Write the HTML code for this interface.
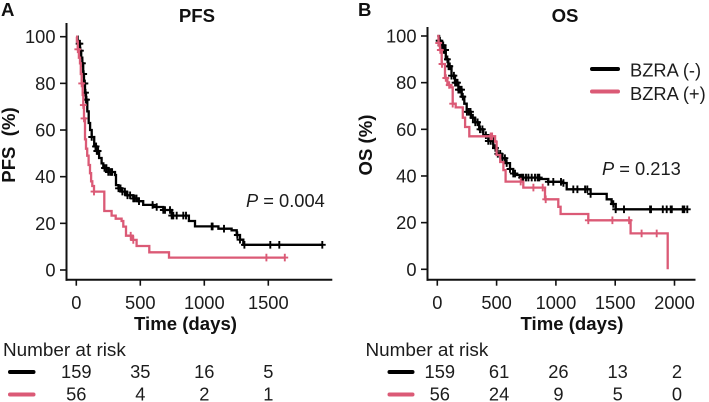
<!DOCTYPE html>
<html lang="en">
<head>
<meta charset="utf-8">
<title>Kaplan-Meier PFS and OS by BZRA</title>
<style>
html,body{margin:0;padding:0;background:#fff;}
svg{display:block;}
text{font-family:"Liberation Sans",sans-serif;font-size:18.3px;fill:#1c1c1c;}
.b{font-weight:bold;fill:#111;font-size:18.6px;}
.r{font-size:18.9px;}
</style>
</head>
<body>
<svg id="figure" width="709" height="402" viewBox="0 0 709 402" xmlns="http://www.w3.org/2000/svg">
  <text class="b" x="1" y="16">A</text>
  <text class="b" x="358" y="16">B</text>
  <text class="b" x="197" y="22" text-anchor="middle">PFS</text>
  <text class="b" x="565" y="22" text-anchor="middle">OS</text>
  <text class="b" transform="translate(15,145) rotate(-90)" text-anchor="middle" xml:space="preserve">PFS  (%)</text>
  <text class="b" transform="translate(372,145) rotate(-90)" text-anchor="middle">OS (%)</text>
  <text class="b" x="185.5" y="330" text-anchor="middle">Time (days)</text>
  <text class="b" x="572" y="330" text-anchor="middle">Time (days)</text>
  <text x="246" y="207"><tspan font-style="italic">P</tspan> = 0.004</text>
  <text x="602" y="175"><tspan font-style="italic">P</tspan> = 0.213</text>
  <line x1="592" x2="618" y1="69" y2="69" stroke="#000" stroke-width="4" stroke-linecap="round"/>
  <line x1="592" x2="618" y1="91.5" y2="91.5" stroke="#db5a76" stroke-width="4" stroke-linecap="round"/>
  <text x="630" y="76.5">BZRA (-)</text>
  <text x="630" y="100">BZRA (+)</text>
  <text class="r" x="3" y="356">Number at risk</text>
  <text class="r" x="365.5" y="356">Number at risk</text>
  <line x1="10" x2="33.5" y1="372" y2="372" stroke="#000" stroke-width="4" stroke-linecap="round"/>
  <line x1="10" x2="33.5" y1="394.5" y2="394.5" stroke="#db5a76" stroke-width="4" stroke-linecap="round"/>
  <line x1="389.5" x2="412.5" y1="372" y2="372" stroke="#000" stroke-width="4" stroke-linecap="round"/>
  <line x1="389.5" x2="412.5" y1="394.5" y2="394.5" stroke="#db5a76" stroke-width="4" stroke-linecap="round"/>
</svg>
<script>
const yTickValues = [0, 20, 40, 60, 80, 100];
const pfsXTicks = [0, 500, 1000, 1500];
const osXTicks = [0, 500, 1000, 1500, 2000];

const pfsNegTime = [0, 10, 20, 29, 38, 47, 54, 60, 68, 76, 86, 97, 108, 120, 140, 159, 178, 198, 211, 250, 302, 310, 330, 354, 394, 445, 485, 523, 601, 680, 745, 880, 927, 1110, 1213, 1253, 1279, 1305];
const pfsNegSurv = [100, 98, 97, 94, 91, 88.6, 84, 80, 76, 73, 68, 63, 60, 57, 53, 51, 48, 45.7, 43.7, 42, 40.7, 36.4, 35, 33.6, 32, 30.7, 29.5, 27.9, 27, 25.7, 23.3, 21, 18.7, 17.7, 17, 15, 13, 10.8];
const pfsNegCensor = [22, 28, 32, 48, 58, 62, 67, 72, 76, 80, 120, 150, 155, 160, 165, 170, 220, 235, 250, 265, 275, 280, 330, 345, 360, 380, 400, 420, 445, 455, 470, 490, 596, 628, 680, 693, 732, 745, 758, 784, 836, 857, 1058, 1065, 1154, 1258, 1279, 1313, 1516, 1586, 1922];
const pfsNegEnd = 1922;

const pfsPosTime = [0, 5, 12, 20, 29, 35, 42, 50, 55, 60, 68, 76, 85, 96, 107, 116, 125, 138, 219, 276, 308, 354, 367, 388, 437, 471, 570, 724];
const pfsPosSurv = [100, 98, 94.6, 91, 88.6, 84, 80, 75, 70.7, 65, 56, 52, 49, 45, 41.5, 38, 36, 33.6, 25.3, 23.3, 22, 21, 18.6, 14.7, 12.9, 10.3, 7.6, 5.3];
const pfsPosCensor = [12, 42, 55, 60, 138, 425, 445, 1485, 1629];
const pfsPosEnd = 1629;

const osNegTime = [0, 15, 30, 51, 72, 93, 120, 149, 178, 206, 228, 248, 283, 318, 353, 388, 430, 472, 505, 543, 575, 613, 640, 669, 697, 866, 935, 1049, 1091, 1293, 1428, 1470, 1504];
const osNegSurv = [100, 98, 96, 94, 90, 87, 83, 80, 77, 74, 71, 67.5, 65, 63, 60, 57.5, 55, 52, 49.5, 47.6, 45.5, 43, 41, 40.4, 39.3, 38.7, 37.5, 37, 34.3, 32.3, 30, 28, 25.7];
const osNegCensor = [15, 22, 30, 38, 42, 46, 50, 55, 62, 70, 85, 95, 105, 120, 140, 150, 160, 170, 178, 185, 195, 205, 215, 250, 265, 280, 300, 320, 340, 360, 380, 410, 430, 450, 470, 490, 510, 530, 550, 570, 585, 613, 641, 655, 711, 725, 748, 768, 796, 824, 846, 860, 936, 978, 1043, 1063, 1147, 1181, 1246, 1265, 1293, 1484, 1504, 1574, 1794, 1802, 1901, 1934, 1968, 1977, 2069, 2083, 2108];
const osNegEnd = 2108;

const osPosTime = [0, 10, 23, 37, 65, 85, 107, 130, 155, 215, 234, 270, 487, 500, 530, 557, 576, 725, 908, 1020, 1040, 1273, 1630, 1943];
const osPosSurv = [100, 97, 94, 88, 82, 79, 78, 71, 69.4, 65, 61, 57, 54.7, 49, 46, 42.5, 37.6, 35, 30, 26.8, 23.7, 21, 15.4, 0];
const osPosCensor = [12, 25, 40, 72, 100, 130, 450, 462, 703, 810, 889, 914, 1273, 1476, 1617, 1723, 1850];
const osPosEnd = 1943;

const pfsRiskNeg = ["159", "35", "16", "5"];
const pfsRiskPos = ["56", "4", "2", "1"];
const osRiskNeg = ["159", "61", "26", "13", "2"];
const osRiskPos = ["56", "24", "9", "5", "0"];

const NS = 'http://www.w3.org/2000/svg';
const svg = document.getElementById('figure');
const BLACK = '#000';
const PINK = '#db5a76';

const xPfs = t => 76.3 + t * 0.128;
const yPfs = s => 270 - s * 2.333;
const xOs = t => 437.3 + t * 0.1186;
const yOs = s => 269.3 - s * 2.333;

function make(tag, attrs, parent) {
  const el = document.createElementNS(NS, tag);
  for (const k in attrs) el.setAttribute(k, attrs[k]);
  (parent || svg).appendChild(el);
  return el;
}

function survAt(times, survs, t) {
  let s = survs[0];
  for (let i = 0; i < times.length && i < survs.length; i++) {
    if (times[i] <= t) s = survs[i];
  }
  return s;
}

function drawAxes(prefix, axisX, axisTop, axisY, axisRight, xf, yf, xTicks) {
  const yAxis = make('line', {x1: axisX, x2: axisX, y1: axisTop, y2: axisY + 1, stroke: '#111', 'stroke-width': 2});
  
  
  const xAxis = make('line', {x1: axisX - 1, x2: axisRight, y1: axisY, y2: axisY, stroke: '#111', 'stroke-width': 2});
  
  
  yTickValues.forEach(v => {
    const y = yf(v);
    const tick = make('line', {x1: axisX - 6.5, x2: axisX, y1: y, y2: y, stroke: '#111', 'stroke-width': 1.6});
    
    
    const label = make('text', {x: axisX - 11, y: y + 6.5, 'text-anchor': 'end'});
    label.textContent = v;
    
    
  });
  xTicks.forEach(v => {
    const x = xf(v);
    const tick = make('line', {x1: x, x2: x, y1: axisY, y2: axisY + 6, stroke: '#111', 'stroke-width': 1.6});
    
    
    const label = make('text', {x: x, y: 309, 'text-anchor': 'middle'});
    label.textContent = v;
    
    
  });
}

function drawCurve(name, times, survs, censor, end, xf, yf, color) {
  let d = 'M' + xf(times[0]).toFixed(1) + ' ' + yf(survs[0]).toFixed(1);
  for (let i = 1; i < times.length; i++) {
    d += 'H' + xf(times[i]).toFixed(1) + 'V' + yf(survs[i]).toFixed(1);
  }
  d += 'H' + xf(end).toFixed(1);
  const path = make('path', {d: d, fill: 'none', stroke: color, 'stroke-width': 2.3, 'stroke-linejoin': 'miter'});
  
  
  censor.forEach(t => {
    const cx = xf(t);
    const cy = yf(survAt(times, survs, t));
    const mark = make('path', {
      d: 'M' + (cx - 3.4).toFixed(1) + ' ' + cy.toFixed(1) + 'H' + (cx + 3.4).toFixed(1) +
         'M' + cx.toFixed(1) + ' ' + (cy - 3.8).toFixed(1) + 'V' + (cy + 3.8).toFixed(1),
      fill: 'none', stroke: color, 'stroke-width': 1.9
    });
    
    
  });
}

function drawRisk(name, values, ticks, xf, baseline) {
  values.forEach((v, i) => {
    const t = make('text', {x: xf(ticks[i]), y: baseline, 'text-anchor': 'middle'});
    t.textContent = v;
    
    
  });
}

drawAxes('pfs', 66.5, 23, 279.7, 332.3, xPfs, yPfs, pfsXTicks);
drawAxes('os', 427.5, 27, 279.7, 695.5, xOs, yOs, osXTicks);

drawCurve('pfs-negative', pfsNegTime, pfsNegSurv, pfsNegCensor, pfsNegEnd, xPfs, yPfs, BLACK);
drawCurve('pfs-positive', pfsPosTime, pfsPosSurv, pfsPosCensor, pfsPosEnd, xPfs, yPfs, PINK);
drawCurve('os-negative', osNegTime, osNegSurv, osNegCensor, osNegEnd, xOs, yOs, BLACK);
drawCurve('os-positive', osPosTime, osPosSurv, osPosCensor, osPosEnd, xOs, yOs, PINK);

drawRisk('pfs-risk-negative', pfsRiskNeg, pfsXTicks, xPfs, 378);
drawRisk('pfs-risk-positive', pfsRiskPos, pfsXTicks, xPfs, 400.5);
drawRisk('os-risk-negative', osRiskNeg, osXTicks, t => xOs(t) + 2.5, 378);
drawRisk('os-risk-positive', osRiskPos, osXTicks, t => xOs(t) + 2.5, 400.5);
</script>
</body>
</html>
